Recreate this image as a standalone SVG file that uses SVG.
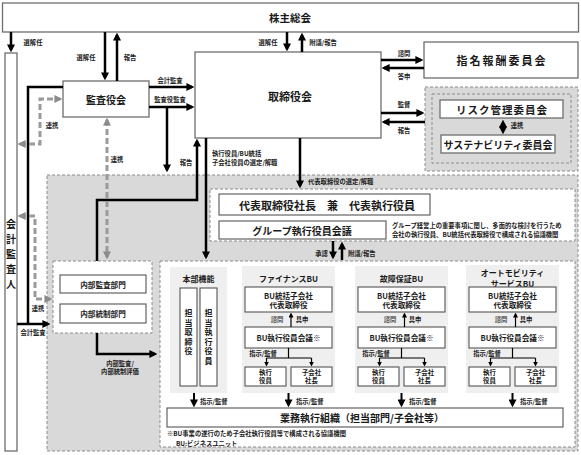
<svg xmlns="http://www.w3.org/2000/svg" width="581" height="455" viewBox="0 0 581 455">
<defs>
<marker id="ah" viewBox="0 0 10 10" refX="7" refY="5" markerWidth="8" markerHeight="8" markerUnits="userSpaceOnUse" orient="auto-start-reverse"><path d="M0,0 L10,5 L0,10 z" fill="#000"/></marker>
<marker id="as" viewBox="0 0 10 10" refX="7" refY="5" markerWidth="5" markerHeight="5" markerUnits="userSpaceOnUse" orient="auto-start-reverse"><path d="M0,0 L10,5 L0,10 z" fill="#000"/></marker>
<marker id="ag" viewBox="0 0 10 10" refX="7" refY="5" markerWidth="8" markerHeight="8" markerUnits="userSpaceOnUse" orient="auto-start-reverse"><path d="M0,0 L10,5 L0,10 z" fill="#8c8c8c"/></marker>
</defs>
<style>
.box{fill:#fff;stroke:#6e6e6e;stroke-width:1.3}
.sbox{fill:#fff;stroke:#555;stroke-width:1.1}
.gbox{fill:#d9d9d9;stroke:#8c8c8c;stroke-width:1;stroke-dasharray:3 2}
.wbox{fill:#fff;stroke:#8c8c8c;stroke-width:1;stroke-dasharray:3 2}
.panel{fill:#efefef}
.ln{fill:none;stroke:#000;stroke-width:2.5}
.lnh{fill:none;stroke:#000;stroke-width:2.5;marker-end:url(#ah)}
.lns{fill:none;stroke:#000;stroke-width:1.2}
.lnsh{fill:none;stroke:#000;stroke-width:1.2;marker-end:url(#as)}
.dl{fill:none;stroke:#9a9a9a;stroke-width:3;stroke-dasharray:6 3}
text{font-family:"Noto Sans CJK JP","Noto Sans",sans-serif;font-weight:bold;fill:#1a1a1a;text-anchor:middle;dominant-baseline:central}
.xs{font-size:6.3px}
.sm{font-size:6.4px}
.md{font-size:7.6px}
.lg{font-size:10.5px}
.st{text-anchor:start}
</style>

<g id="exec-area">
<rect class="gbox" x="47" y="175" width="531" height="276"/>
</g>
<g id="risk-group">
<rect class="gbox" x="425" y="87" width="153" height="84"/>
<rect class="gbox" x="432" y="94" width="139" height="69"/>
</g>

<g id="kabunushi">
<rect class="box" x="2.5" y="3" width="576" height="29"/>
<text class="lg" x="290" y="17">株主総会</text>
</g>

<g id="kaikei">
<rect class="box" x="5" y="53" width="12" height="398"/>
<text style="font-size:10px"><tspan x="11" y="223">会</tspan><tspan x="11" y="238">計</tspan><tspan x="11" y="253">監</tspan><tspan x="11" y="268">査</tspan><tspan x="11" y="283">人</tspan></text>
</g>

<g id="kansayaku">
<rect class="box" x="63" y="81" width="86" height="36"/>
<text style="font-size:10px" x="106" y="99">監査役会</text>
</g>

<g id="torishimari">
<rect class="box" x="195" y="52" width="186" height="86"/>
<text style="font-size:11px" x="290" y="96">取締役会</text>
</g>

<g id="shimei">
<rect class="box" x="424" y="42" width="154" height="36"/>
<text style="font-size:11px;letter-spacing:2px" x="502" y="60">指名報酬委員会</text>
</g>

<g id="risk">
<rect class="box" x="440" y="100" width="123" height="18"/>
<text style="font-size:10.5px;letter-spacing:1px" x="502" y="109">リスク管理委員会</text>
</g>
<g id="sustain">
<rect class="box" x="441" y="135" width="114" height="18"/>
<text style="font-size:10px" x="498" y="144">サステナビリティ委員会</text>
</g>

<g id="top-exec">
<rect class="wbox" x="210" y="189" width="365" height="52"/>
</g>
<g id="daihyo">
<rect class="sbox" x="219" y="194" width="211" height="21"/>
<text style="font-size:11px" x="327" y="204.5">代表取締役社長　兼　代表執行役員</text>
</g>
<g id="group-kaigi">
<rect class="sbox" x="219" y="221" width="167" height="18"/>
<text style="font-size:10px" x="302" y="230">グループ執行役員会議</text>
<text class="xs st" x="392" y="225">グループ経営上の重要事項に関し、多面的な検討を行うため</text>
<text class="xs st" x="392" y="234">会社の執行役員、BU統括代表取締役で構成される協議機関</text>
</g>

<g id="naibu">
<rect class="wbox" x="53" y="261" width="99" height="72"/>
<rect class="sbox" x="60" y="275" width="86" height="18"/>
<text class="md" x="103" y="284">内部監査部門</text>
<rect class="sbox" x="60" y="304" width="86" height="19"/>
<text class="md" x="103" y="313.5">内部統制部門</text>
</g>

<g id="lower-exec">
<rect class="wbox" x="160" y="261" width="415" height="186"/>
</g>

<g id="honbu">
<rect class="panel" x="170" y="267" width="57" height="126"/>
<text style="font-size:8px" x="198.5" y="278">本部機能</text>
<rect class="sbox" x="180" y="288" width="17" height="98"/>
<text style="font-size:8px"><tspan x="188.5" y="312">担</tspan><tspan x="188.5" y="321.5">当</tspan><tspan x="188.5" y="331">取</tspan><tspan x="188.5" y="340.5">締</tspan><tspan x="188.5" y="350">役</tspan></text>
<rect class="sbox" x="200" y="288" width="17" height="98"/>
<text style="font-size:8px"><tspan x="208.5" y="312">担</tspan><tspan x="208.5" y="321.5">当</tspan><tspan x="208.5" y="331">執</tspan><tspan x="208.5" y="340.5">行</tspan><tspan x="208.5" y="350">役</tspan><tspan x="208.5" y="359.5">員</tspan></text>
</g>

<g id="bu-finance">
<rect class="panel" x="242" y="266" width="93" height="127"/>
<text style="font-size:8px" x="288.5" y="278">ファイナンスBU</text>
<rect class="sbox" x="245" y="287" width="87" height="25"/>
<text class="md" x="288.5" y="295">BU統括子会社</text>
<text class="md" x="288.5" y="304.5">代表取締役</text>
<text class="xs" x="277" y="319" style="fill:#555">諮問</text>
<text class="xs" x="302" y="319">具申</text>
<rect class="sbox" x="245" y="327" width="87" height="21"/>
<text class="md" x="288.5" y="337.5">BU執行役員会議※</text>
<text class="xs" x="263" y="353.5">指示/監督</text>
<rect class="sbox" x="245" y="367" width="41" height="19"/>
<text class="sm" x="265.5" y="372">執行</text><text class="sm" x="265.5" y="380.5">役員</text>
<rect class="sbox" x="291" y="367" width="41" height="19"/>
<text class="sm" x="311.5" y="372">子会社</text><text class="sm" x="311.5" y="380.5">社長</text>
</g>

<g id="bu-kosho">
<rect class="panel" x="355" y="266" width="93" height="127"/>
<text style="font-size:8px" x="401.5" y="278">故障保証BU</text>
<rect class="sbox" x="358" y="287" width="87" height="25"/>
<text class="md" x="401.5" y="295">BU統括子会社</text>
<text class="md" x="401.5" y="304.5">代表取締役</text>
<text class="xs" x="390" y="319" style="fill:#555">諮問</text>
<text class="xs" x="415" y="319">具申</text>
<rect class="sbox" x="358" y="327" width="87" height="21"/>
<text class="md" x="401.5" y="337.5">BU執行役員会議※</text>
<text class="xs" x="376" y="353.5">指示/監督</text>
<rect class="sbox" x="358" y="367" width="41" height="19"/>
<text class="sm" x="378.5" y="372">執行</text><text class="sm" x="378.5" y="380.5">役員</text>
<rect class="sbox" x="404" y="367" width="41" height="19"/>
<text class="sm" x="424.5" y="372">子会社</text><text class="sm" x="424.5" y="380.5">社長</text>
</g>

<g id="bu-auto">
<rect class="panel" x="466" y="265" width="93" height="128"/>
<text style="font-size:8px" x="512.5" y="272.5">オートモビリティ</text>
<text style="font-size:8px" x="512.5" y="283">サービスBU</text>
<rect class="sbox" x="469" y="287" width="87" height="25"/>
<text class="md" x="512.5" y="295">BU統括子会社</text>
<text class="md" x="512.5" y="304.5">代表取締役</text>
<text class="xs" x="501" y="319" style="fill:#555">諮問</text>
<text class="xs" x="526" y="319">具申</text>
<rect class="sbox" x="469" y="327" width="87" height="21"/>
<text class="md" x="512.5" y="337.5">BU執行役員会議※</text>
<text class="xs" x="487" y="353.5">指示/監督</text>
<rect class="sbox" x="469" y="367" width="41" height="19"/>
<text class="sm" x="489.5" y="372">執行</text><text class="sm" x="489.5" y="380.5">役員</text>
<rect class="sbox" x="515" y="367" width="41" height="19"/>
<text class="sm" x="535.5" y="372">子会社</text><text class="sm" x="535.5" y="380.5">社長</text>
</g>

<g id="gyomu">
<rect class="sbox" x="167" y="408" width="396" height="19"/>
<text style="font-size:10px" x="362" y="417.5">業務執行組織（担当部門/子会社等）</text>
</g>

<g id="notes">
<text class="xs st" x="167" y="433">※BU事業の遂行のため子会社執行役員等で構成される協議機関</text>
<text class="xs st" x="176" y="443">BU:ビジネスユニット</text>
</g>

<g id="connectors">
<line class="lnh" x1="11" y1="32" x2="11" y2="50"/>
<text class="xs" x="33" y="42">選解任</text>
<line class="lnh" x1="105" y1="32" x2="105" y2="78"/>
<text class="xs" x="86" y="57">選解任</text>
<line class="lnh" x1="117" y1="81" x2="117" y2="35"/>
<text class="xs" x="130" y="57">報告</text>
<line class="lnh" x1="287" y1="32" x2="287" y2="49"/>
<text class="xs" x="268" y="42">選解任</text>
<line class="lnh" x1="302" y1="52" x2="302" y2="35"/>
<text class="xs" x="323" y="42">附議/報告</text>
<line class="lnh" x1="149" y1="87" x2="192" y2="87"/>
<text class="xs" x="170" y="80">会計監査</text>
<line class="lnh" x1="149" y1="107" x2="192" y2="107"/>
<text class="xs" x="170" y="99.5">監査役監査</text>
<polyline class="lnh" points="167,107 167,170"/>
<line class="lnh" x1="381" y1="60" x2="421" y2="60"/>
<text class="xs" x="404" y="53">諮問</text>
<line class="lnh" x1="424" y1="68" x2="384" y2="68"/>
<text class="xs" x="404" y="76">答申</text>
<line class="lnh" x1="381" y1="113" x2="422" y2="113"/>
<text class="xs" x="404" y="104">監督</text>
<line class="lnh" x1="425" y1="122" x2="384" y2="122"/>
<text class="xs" x="404" y="130">報告</text>
<line class="lnh" x1="503" y1="122" x2="503" y2="132" style="marker-start:url(#ah);stroke-width:2"/>
<text class="xs" x="517" y="125.5">連携</text>
<line class="lnh" x1="300" y1="138" x2="300" y2="186"/>
<text class="xs st" x="308" y="181">代表取締役の選定/解職</text>
<line class="lnh" x1="206" y1="138" x2="206" y2="257"/>
<text class="xs st" x="212" y="153">執行役員/BU統括</text>
<text class="xs st" x="212" y="162">子会社役員の選定/解職</text>
<polyline class="lnh" points="97,261 97,200 197,200 197,141"/>
<text class="xs" x="186" y="162">報告</text>
<polyline class="lnh" points="97,333 97,354 155,354"/>
<text class="xs" x="120" y="363">内部監査/</text>
<text class="xs" x="120" y="371">内部統制評価</text>
<line class="lnh" x1="333" y1="241" x2="333" y2="257"/>
<line class="lnh" x1="342" y1="260" x2="342" y2="244"/>
<text class="xs" x="321.5" y="253">承認</text>
<text class="xs st" x="348" y="253">附議/報告</text>
<polyline class="ln" points="63,87 28,87 28,324"/>
<line class="lnh" x1="17" y1="324" x2="48" y2="324"/>
<text class="xs" x="33" y="332">会計監査</text>
<polyline class="dl" points="20,144 40,144 40,99 60,99" style="marker-start:url(#ag);marker-end:url(#ag)"/>
<text class="xs" x="52" y="125">連携</text>
<polyline class="dl" points="20,216 35,216 35,299 50,299" style="marker-start:url(#ag);marker-end:url(#ag)"/>
<text class="xs" x="38" y="308">連携</text>
<line class="dl" x1="107" y1="120" x2="107" y2="257" style="marker-start:url(#ag);marker-end:url(#ag)"/>
<text class="xs" x="117" y="159">連携</text>
<line class="lnsh" x1="291" y1="327" x2="291" y2="314"/>
<polyline class="lns" points="288.5,348 288.5,358"/>
<polyline class="lnsh" points="266.5,358 266.5,365"/>
<polyline class="lnsh" points="311.5,358 311.5,365"/>
<line class="lns" x1="266.5" y1="358" x2="311.5" y2="358"/>
<line class="lnsh" x1="404.5" y1="327" x2="404.5" y2="314"/>
<polyline class="lns" points="401.5,348 401.5,358"/>
<polyline class="lnsh" points="379.5,358 379.5,365"/>
<polyline class="lnsh" points="424.5,358 424.5,365"/>
<line class="lns" x1="379.5" y1="358" x2="424.5" y2="358"/>
<line class="lnsh" x1="515.5" y1="327" x2="515.5" y2="314"/>
<polyline class="lns" points="512.5,348 512.5,358"/>
<polyline class="lnsh" points="490.5,358 490.5,365"/>
<polyline class="lnsh" points="535.5,358 535.5,365"/>
<line class="lns" x1="490.5" y1="358" x2="535.5" y2="358"/>
<line class="lnh" x1="194" y1="393" x2="194" y2="405" style="stroke-width:2"/>
<text class="xs st" x="200" y="401">指示/監督</text>
<line class="lnh" x1="288.5" y1="393" x2="288.5" y2="405" style="stroke-width:2"/>
<text class="xs st" x="296" y="401">指示/監督</text>
<line class="lnh" x1="401.5" y1="393" x2="401.5" y2="405" style="stroke-width:2"/>
<text class="xs st" x="409" y="401">指示/監督</text>
<line class="lnh" x1="512.5" y1="393" x2="512.5" y2="405" style="stroke-width:2"/>
<text class="xs st" x="520" y="401">指示/監督</text>
</g>
</svg>
